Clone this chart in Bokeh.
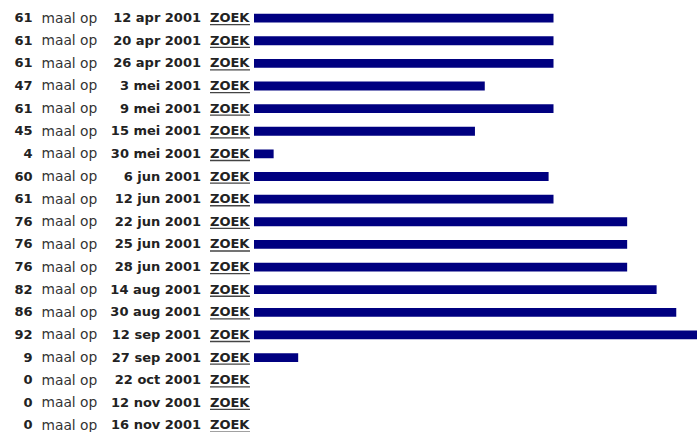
from bokeh.plotting import figure
from bokeh.models import ColumnDataSource, Range1d
from bokeh.core.properties import value
from bokeh.embed import file_html
from bokeh.resources import INLINE

# ---- data ----
counts = [61, 61, 61, 47, 61, 45, 4, 60, 61, 76, 76, 76, 82, 86, 92, 9, 0, 0, 0]
dates = ["12 apr 2001", "20 apr 2001", "26 apr 2001", "3 mei 2001", "9 mei 2001",
         "15 mei 2001", "30 mei 2001", "6 jun 2001", "12 jun 2001", "22 jun 2001",
         "25 jun 2001", "28 jun 2001", "14 aug 2001", "30 aug 2001", "12 sep 2001",
         "27 sep 2001", "22 oct 2001", "12 nov 2001", "16 nov 2001"]
middle_label = "maal op"
link_label = "ZOEK"

# ---- layout constants ----
W, H = 697, 432
PX_PER_UNIT = 4.91        # pixels per count
ZERO_PX = 253.5           # x pixel of bar origin in figure
ROW_PX = 22.63            # row spacing
FIRST_ROW_PX = 17.6       # centre of first row in figure

rows = list(range(len(counts)))
src = ColumnDataSource(dict(
    y=rows,
    count=counts,
    count_txt=[str(c) for c in counts],
    date=dates,
    mid=[middle_label] * len(counts),
    link=[link_label] * len(counts),
))

x_start = -ZERO_PX / PX_PER_UNIT
x_end = (W - ZERO_PX) / PX_PER_UNIT
y_top = -FIRST_ROW_PX / ROW_PX
y_bottom = (H - FIRST_ROW_PX) / ROW_PX

p = figure(width=W, height=H, output_backend="svg", toolbar_location=None,
           x_range=Range1d(x_start, x_end), y_range=Range1d(y_bottom, y_top),
           min_border=0, outline_line_color=None, background_fill_color="white",
           border_fill_color="white")
p.axis.visible = False
p.grid.visible = False

# bars
p.hbar(y="y", left=0, right="count", height=8.8 / ROW_PX, source=src,
       fill_color="#000080", line_color=None)

font = value("DejaVu Sans")
common = dict(source=src, text_font=font,
              text_baseline="alphabetic", y_offset=-0.5)

p.text(x=0, y="y", text="count_txt", x_offset=32 - ZERO_PX, text_align="right",
       text_font_size="13px", text_font_style="bold", text_color="#222222", **common)
p.text(x=0, y="y", text="mid", x_offset=41 - ZERO_PX, text_align="left",
       text_font_size="13.8px", text_font_style="normal", text_color="#333333", **common)
p.text(x=0, y="y", text="date", x_offset=200.5 - ZERO_PX, text_align="right",
       text_font_size="13px", text_font_style="bold", text_color="#222222", **common)
p.text(x=0, y="y", text="link", x_offset=209.5 - ZERO_PX, text_align="left",
       text_font_size="13px", text_font_style="bold", text_color="#222222", **common)

# underline of the link text
ul_y = [r + 6.6 / ROW_PX for r in rows]
p.segment(x0=[(209.5 - ZERO_PX) / PX_PER_UNIT] * len(rows),
          x1=[(249.5 - ZERO_PX) / PX_PER_UNIT] * len(rows),
          y0=ul_y, y1=ul_y, line_color="#444444", line_width=1.3)

open("out.html", "w").write(file_html(p, INLINE))
